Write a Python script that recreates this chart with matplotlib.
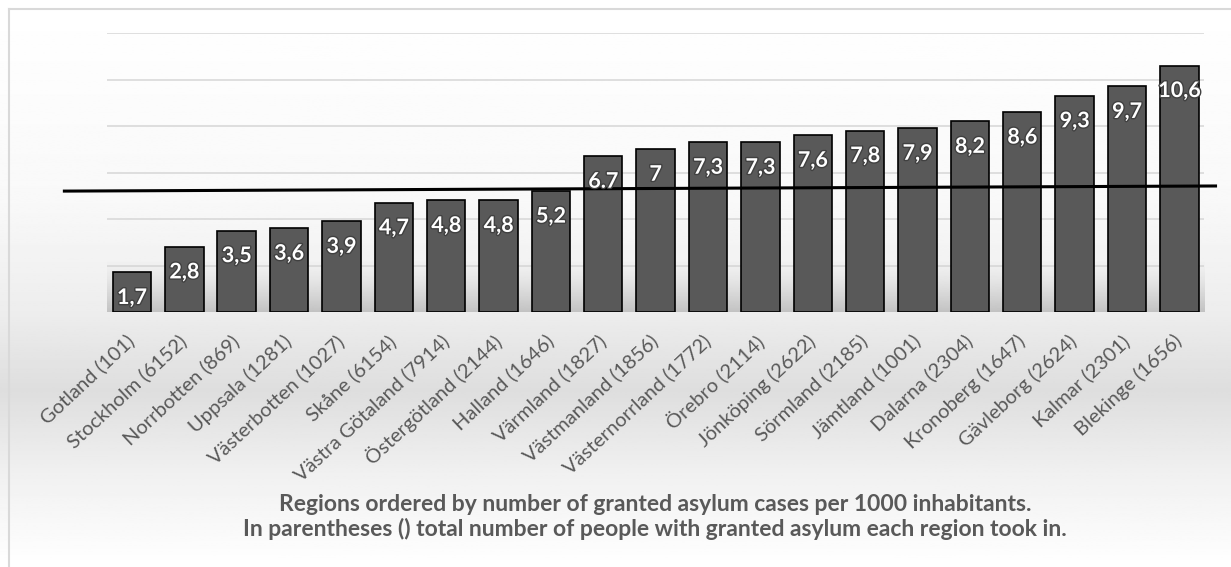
import matplotlib
matplotlib.use("Agg")
import matplotlib.pyplot as plt
import matplotlib.patheffects as pe
import numpy as np

plt.rcParams['font.family'] = ['Lato', 'DejaVu Sans']

# regions sorted by granted asylum cases per 1000 inhabitants
regions = ["Gotland (101)", "Stockholm (6152)", "Norrbotten (869)", "Uppsala (1281)",
           "Västerbotten (1027)", "Skåne (6154)", "Västra Götaland (7914)",
           "Östergötland (2144)", "Halland (1646)", "Värmland (1827)",
           "Västmanland (1856)", "Västernorrland (1772)", "Örebro (2114)",
           "Jönköping (2622)", "Sörmland (2185)", "Jämtland (1001)",
           "Dalarna (2304)", "Kronoberg (1647)", "Gävleborg (2624)",
           "Kalmar (2301)", "Blekinge (1656)"]
per_1000 = [1.7, 2.8, 3.5, 3.6, 3.9, 4.7, 4.8, 4.8, 5.2, 6.7, 7.0, 7.3, 7.3,
            7.6, 7.8, 7.9, 8.2, 8.6, 9.3, 9.7, 10.6]
value_labels = ["1,7", "2,8", "3,5", "3,6", "3,9", "4,7", "4,8", "4,8", "5,2", "6.7",
                "7", "7,3", "7,3", "7,6", "7,8", "7,9", "8,2", "8,6", "9,3", "9,7", "10,6"]

# hand-drawn reference line (x in bar positions, y in cases per 1000)
ref_line_x = [-1.29, 20.69]
ref_line_y = [5.2, 5.42]

caption = ("Regions ordered by number of granted asylum cases per 1000 inhabitants.\n"
           "In parentheses () total number of people with granted asylum each region took in.")

grey_text = "#595959"
bar_col = "#595959"

fig = plt.figure(figsize=(12.31, 5.67), dpi=100)

# soft vertical background shading
bg = fig.add_axes([0, 0, 1, 1], zorder=-10)
rows = np.linspace(0, 1, 300)
shade = np.interp(rows, [0, 0.35, 0.55, 0.69, 0.83, 1.0],
                  [1.0, 0.975, 0.93, 0.87, 0.94, 1.0])
bg.imshow(np.repeat(shade[:, None], 2, axis=1), cmap="gray", vmin=0, vmax=1,
          aspect="auto", extent=(0, 1, 1, 0))
bg.set_xlim(0, 1)
bg.set_ylim(1, 0)
bg.axis("off")

# light frame
fig.add_artist(plt.Line2D([9 / 1231, 9 / 1231], [0, 1 - 9 / 567], transform=fig.transFigure,
                          color="#d9d9d9", lw=1.5))
fig.add_artist(plt.Line2D([9 / 1231, 1], [1 - 9 / 567, 1 - 9 / 567], transform=fig.transFigure,
                          color="#d9d9d9", lw=1.5))

ax = fig.add_axes([106.8 / 1231, 1 - 312 / 567, (1204 - 106.8) / 1231, (312 - 33) / 567])
ax.patch.set_alpha(0)
x = np.arange(len(regions))

# shadow band at the base of the bars
fade = np.linspace(0, 1, 100) ** 1.5 * 0.35
shadow = np.zeros((100, 2, 4))
shadow[..., :3] = 0.45
shadow[..., 3] = fade[:, None]
ax.imshow(shadow, extent=(-0.48, 20.47, 0, 2.3), origin="upper", aspect="auto", zorder=1)

ax.bar(x, per_1000, width=0.733, color=bar_col, edgecolor="black", linewidth=1.2, zorder=3)

for xi, v, lab in zip(x, per_1000, value_labels):
    ax.annotate(lab, (xi, v), xytext=(0, -18), textcoords="offset points",
                ha="center", va="center", color="white", fontsize=15.5, fontweight="bold",
                zorder=5, path_effects=[pe.withStroke(linewidth=2, foreground="#404040")])

ax.plot(ref_line_x, ref_line_y, color="black", lw=2.2, clip_on=False, zorder=4)

ax.set_xlim(-0.48, 20.47)
ax.set_ylim(0, 12)
ax.set_yticks(np.arange(2, 13, 2))
ax.yaxis.grid(True, color="#d9d9d9", lw=1.2, zorder=0)
ax.set_axisbelow(True)
ax.tick_params(axis="y", left=False, labelleft=False)
ax.tick_params(axis="x", length=0, pad=19)
ax.set_xticks(x)
ax.set_xticklabels(regions, rotation=43, ha="right", va="center", rotation_mode="anchor",
                   color=grey_text, fontsize=14.5)
for s in ax.spines.values():
    s.set_visible(False)

fig.text(655 / 1231, 1 - 517 / 567, caption, ha="center", va="center", fontsize=16.5,
         fontweight="bold", color=grey_text, linespacing=1.15)

fig.savefig("out.png", dpi=100)
